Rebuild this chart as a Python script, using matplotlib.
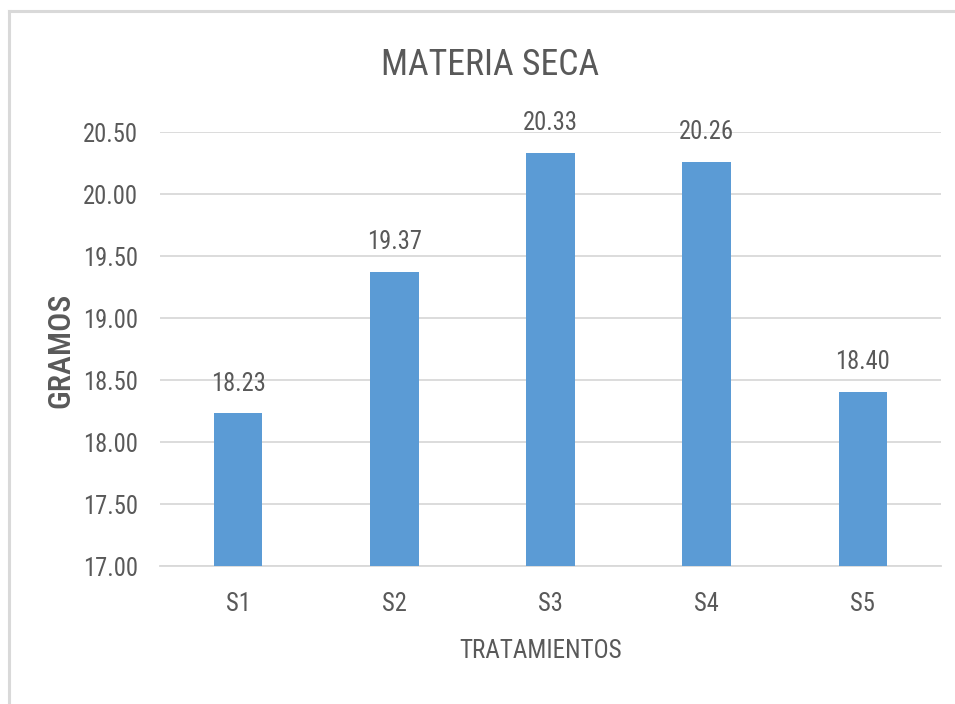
import matplotlib
matplotlib.use("Agg")
import matplotlib.pyplot as plt
from matplotlib import font_manager
from matplotlib.lines import Line2D

categories = ["S1", "S2", "S3", "S4", "S5"]
values = [18.23, 19.37, 20.33, 20.26, 18.40]
yticks = [17.00, 17.50, 18.00, 18.50, 19.00, 19.50, 20.00, 20.50]

entries = font_manager.fontManager.ttflist
names = {f.name for f in entries}
fam, stretch = "Roboto", "normal"
for cand in ["Liberation Sans Narrow", "Roboto Condensed", "Open Sans Condensed", "Noto Sans Condensed"]:
    if cand in names:
        fam = cand
        break
else:
    for f in entries:
        if f.name == "Roboto" and str(f.stretch) in ("condensed", "semi-condensed"):
            fam, stretch = "Roboto", f.stretch
            break
plt.rcParams["font.family"] = [fam, "DejaVu Sans"]
plt.rcParams["font.stretch"] = stretch

W, H = 955, 704
fig = plt.figure(figsize=(W / 100, H / 100), dpi=100)
renderer = fig.canvas.get_renderer()


def fit_size(text, target_px, weight="normal", base=20.0):
    t = fig.text(0, 0, text, fontsize=base, fontweight=weight)
    w = t.get_window_extent(renderer).width
    t.remove()
    return base * target_px / w


tick_fs = fit_size("20.50", 55)
title_fs = fit_size("MATERIA SECA", 218)
xlab_fs = fit_size("TRATAMIENTOS", 163)
ylab_fs = fit_size("GRAMOS", 115, weight="medium")

ax = fig.add_axes([160 / W, 1 - 566 / H, (941 - 160) / W, (566 - 132) / H])

txt = "#595959"
grid = "#d9d9d9"
x = list(range(len(categories)))
ax.bar(x, values, width=0.31, color="#5b9bd5", zorder=3)
ax.set_xlim(-0.5, len(categories) - 0.5)
ax.set_ylim(17.0, 20.5)
ax.set_yticks(yticks)
ax.set_yticklabels([f"{v:.2f}" for v in yticks])
ax.set_xticks(x)
ax.set_xticklabels(categories)
ax.tick_params(axis="both", length=0, labelsize=tick_fs, colors=txt)
ax.tick_params(axis="y", pad=16)
ax.tick_params(axis="x", pad=19)
ax.grid(axis="y", color=grid, linewidth=1.3, zorder=0)
for s in ["top", "right", "left"]:
    ax.spines[s].set_visible(False)
ax.spines["bottom"].set_color(grid)
ax.spines["bottom"].set_linewidth(1.3)

for xi, v in zip(x, values):
    ax.annotate(f"{v:.2f}", (xi, v), xytext=(0, 16.5), textcoords="offset points",
                ha="center", va="baseline", fontsize=tick_fs, color=txt)

fig.text(490 / W, 1 - 65 / H, "MATERIA SECA", ha="center", va="center", fontsize=title_fs, color=txt)
fig.text(541 / W, 1 - 651 / H, "TRATAMIENTOS", ha="center", va="center", fontsize=xlab_fs, color=txt)
fig.text(61 / W, 1 - 350 / H, "GRAMOS", ha="center", va="center", rotation=90,
         fontsize=ylab_fs, fontweight="medium", color=txt)

fig.add_artist(Line2D([9 / W, 1.0], [1 - 11 / H, 1 - 11 / H], transform=fig.transFigure,
                      color=grid, linewidth=2.2))
fig.add_artist(Line2D([9 / W, 9 / W], [1 - 11 / H, 0.0], transform=fig.transFigure,
                      color=grid, linewidth=2.2))

fig.savefig("out.png", dpi=100)
